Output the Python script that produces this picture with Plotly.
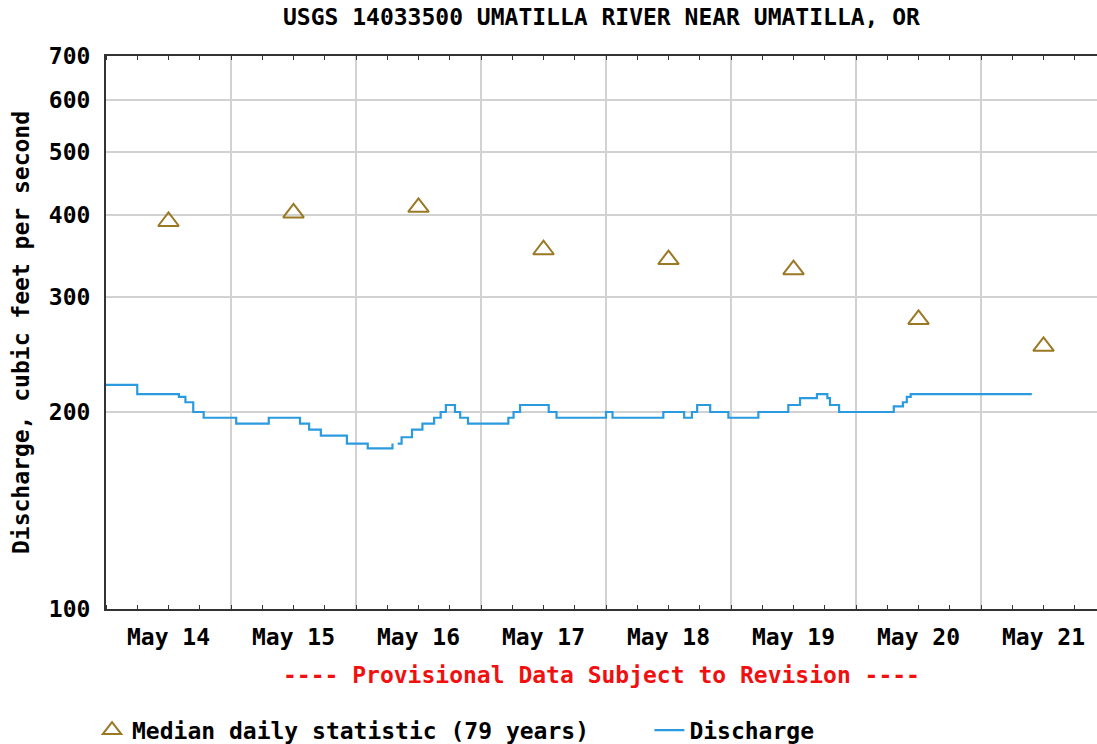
import math
import plotly.graph_objects as go

# ---- Data ----
title_text = "USGS 14033500 UMATILLA RIVER NEAR UMATILLA, OR"
y_title = "Discharge, cubic feet per second"
provisional_note = "---- Provisional Data Subject to Revision ----"
median_name = "Median daily statistic (79 years)"
discharge_name = "Discharge"

# Median daily statistic (79 years), plotted at noon of each day
median_dates = ["2024-05-14 12:00", "2024-05-15 12:00", "2024-05-16 12:00", "2024-05-17 12:00",
                "2024-05-18 12:00", "2024-05-19 12:00", "2024-05-20 12:00", "2024-05-21 12:00"]
median_values = [391, 403, 411, 354, 342, 330, 277, 252]

# Discharge (step series: time of each change and the new value; None = data gap)
discharge_times = [
    "2024-05-14 00:00", "2024-05-14 06:00", "2024-05-14 14:00", "2024-05-14 15:15",
    "2024-05-14 16:45", "2024-05-14 18:45", "2024-05-15 01:00", "2024-05-15 07:15",
    "2024-05-15 13:15", "2024-05-15 15:00", "2024-05-15 17:15", "2024-05-15 22:15",
    "2024-05-16 02:15", "2024-05-16 07:00", "2024-05-16 07:15", "2024-05-16 08:00",
    "2024-05-16 08:45", "2024-05-16 10:45", "2024-05-16 12:45", "2024-05-16 15:00",
    "2024-05-16 16:15", "2024-05-16 17:15", "2024-05-16 19:00", "2024-05-16 20:00",
    "2024-05-16 21:30", "2024-05-17 05:15", "2024-05-17 06:15", "2024-05-17 07:30",
    "2024-05-17 13:00", "2024-05-17 14:30", "2024-05-18 00:00", "2024-05-18 01:15",
    "2024-05-18 11:00", "2024-05-18 15:00", "2024-05-18 16:30", "2024-05-18 17:30",
    "2024-05-18 20:00", "2024-05-18 23:30", "2024-05-19 05:15", "2024-05-19 11:00",
    "2024-05-19 13:15", "2024-05-19 16:30", "2024-05-19 18:30", "2024-05-19 19:00",
    "2024-05-19 20:45", "2024-05-20 07:15", "2024-05-20 09:00", "2024-05-20 09:45",
    "2024-05-20 10:30", "2024-05-21 09:45",
]
discharge_values = [
    220, 213, 211, 207,
    200, 196, 192, 196,
    192, 188, 184, 179,
    176, 179, None, 179,
    183, 188, 192, 196,
    200, 205, 200, 196,
    192, 196, 200, 205,
    200, 196, 200, 196,
    200, 196, 200, 205,
    200, 196, 200, 205,
    210, 213, 210, 205,
    200, 204, 207, 211,
    213, 213,
]

x_range = ["2024-05-14 00:00", "2024-05-21 22:16"]
y_range = [100, 700]
y_tickvals = [100, 200, 300, 400, 500, 600, 700]
y_ticktext = ["100", "200", "300", "400", "500", "600", "700"]

# ---- Styles ----
FONT = "DejaVu Sans Mono"
FS = 23
GRID = "#d2d2d2"
AXIS = "#333333"
BLUE = "#2b9be0"
GOLD = "#9a7824"
NBSP = "\u00a0"

fig = go.Figure()
fig.add_trace(go.Scatter(
    x=median_dates, y=median_values, mode="markers",
    name=median_name + NBSP * 4,
    marker=dict(symbol="triangle-up-open", size=18, color=GOLD, line=dict(width=2, color=GOLD)),
))
fig.add_trace(go.Scatter(
    x=discharge_times, y=discharge_values, mode="lines", name=discharge_name,
    line=dict(color=BLUE, width=2.2, shape="hv"), connectgaps=False,
))

fig.update_layout(
    width=1097, height=744,
    margin=dict(l=106, r=0, t=56, b=135, autoexpand=False),
    paper_bgcolor="white", plot_bgcolor="white",
    font=dict(family=FONT, size=FS, color="black", weight="bold"),
    title=dict(text=title_text, x=0.5, xanchor="center", xref="paper",
               y=1 - 17 / 744, yref="container", yanchor="middle",
               font=dict(family=FONT, size=FS, color="black", weight="bold")),
    showlegend=True,
    legend=dict(orientation="h", x=-0.0141, xanchor="left", y=-0.219, yanchor="middle",
                font=dict(family=FONT, size=FS, color="black", weight="bold"),
                bgcolor="rgba(0,0,0,0)", traceorder="normal"),
    annotations=[dict(text=provisional_note, xref="paper", yref="paper",
                      x=0.5, y=-0.119, xanchor="center", yanchor="middle", showarrow=False,
                      font=dict(family=FONT, size=FS, color="#f01010", weight="bold"))],
)

fig.update_xaxes(
    type="date", range=x_range, automargin=False,
    tick0="2024-05-14", dtick=86400000, tickformat="%b %d", ticklabelmode="period",
    showgrid=True, gridcolor=GRID, gridwidth=2,
    ticks="inside", ticklen=4, tickcolor=AXIS, tickwidth=1,
    minor=dict(dtick=6 * 3600000, ticks="inside", ticklen=4, tickcolor=AXIS, showgrid=False),
    showline=True, linecolor=AXIS, linewidth=2, mirror="ticks",
    ticklabelstandoff=6,
    tickfont=dict(family=FONT, size=FS, color="black", weight="bold"),
    zeroline=False,
)
fig.update_yaxes(
    type="log", range=[math.log10(y_range[0]), math.log10(y_range[1])], automargin=False,
    tickvals=y_tickvals, ticktext=y_ticktext,
    showgrid=True, gridcolor=GRID, gridwidth=2,
    ticks="", showline=True, linecolor=AXIS, linewidth=2, mirror=False,
    ticklabelstandoff=9,
    tickfont=dict(family=FONT, size=FS, color="black", weight="bold"),
    title=dict(text=y_title, standoff=13,
               font=dict(family=FONT, size=FS, color="black", weight="bold")),
    zeroline=False,
)

fig.write_html("out.html", config={"displayModeBar": False},
               post_script="document.body.style.margin='0px';")
